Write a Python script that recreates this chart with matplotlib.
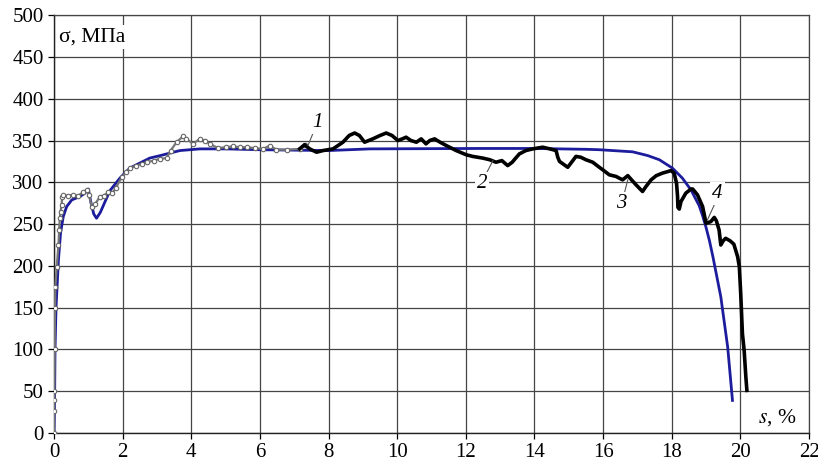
import matplotlib
matplotlib.use("Agg")
import matplotlib.pyplot as plt
import numpy as np

# experimental curve (strain s, %; stress, MPa)
s_exp = [0.00, 0.00, 0.01, 0.01, 0.02, 0.03, 0.04, 0.08, 0.13, 0.15, 0.17, 0.19, 0.22, 0.24,
         0.27, 0.40, 0.55, 0.70, 0.85, 0.95, 1.02, 1.10, 1.20, 1.34, 1.45, 1.58, 1.70, 1.80,
         1.97, 2.10, 2.21, 2.40, 2.55, 2.70, 2.90, 3.08, 3.28, 3.40, 3.57, 3.76, 3.86, 4.05,
         4.25, 4.40, 4.54, 4.78, 5.00, 5.22, 5.41, 5.61, 5.85, 6.09, 6.29, 6.48, 6.80, 7.16,
         7.30, 7.45, 7.65, 7.84, 8.13, 8.42, 8.60, 8.76, 8.90, 9.05, 9.29, 9.50, 9.68, 9.85,
         10.02, 10.15, 10.26, 10.40, 10.56, 10.70, 10.84, 10.95, 11.09, 11.25, 11.43, 11.72,
         12.01, 12.20, 12.49, 12.70, 12.88, 13.05, 13.22, 13.35, 13.56, 13.75, 13.95, 14.24,
         14.45, 14.63, 14.68, 14.73, 14.97, 15.10, 15.21, 15.35, 15.50, 15.70, 15.89, 15.99,
         16.18, 16.38, 16.47, 16.57, 16.72, 16.85, 16.96, 17.15, 17.25, 17.40, 17.55, 17.73,
         17.98, 18.07, 18.14, 18.17, 18.18, 18.22, 18.27, 18.41, 18.56, 18.61, 18.75, 18.90,
         19.00, 19.14, 19.24, 19.30, 19.38, 19.43, 19.50, 19.57, 19.70, 19.81, 19.92, 19.97,
         20.01, 20.06, 20.11, 20.16, 20.19]
sig_exp = [0, 26, 40, 50, 100, 150, 175, 199, 225, 243, 257, 265, 273, 283,
           285, 284, 285, 284, 288, 291, 285, 271, 274, 283, 284, 288, 287, 293,
           306, 312, 317, 320, 322, 324, 326, 328, 329, 338, 348, 355, 352, 346,
           352, 350, 346, 341, 342, 343, 342, 342, 341, 340, 344, 339, 339, 340,
           345, 340, 336, 338, 340, 348, 356, 359, 356, 348, 352, 356, 359, 356,
           350, 352, 354, 350, 348, 352, 346, 350, 352, 348, 344, 338,
           333, 331, 329, 327, 324, 326, 320, 324, 334, 338, 340, 342,
           340, 338, 330, 325, 318, 325, 331, 330, 327, 324, 318, 315,
           309, 307, 305, 303, 308, 302, 297, 289, 295, 303, 308, 311,
           314, 311, 299, 283, 270, 268, 277, 287, 292, 292, 285, 271,
           251, 253, 258, 254, 243, 225, 230, 233, 230, 226, 211, 199,
           167, 119, 99, 67, 51]

# model curve
s_mod = [0.00, 0.02, 0.03, 0.06, 0.13, 0.19, 0.27, 0.37, 0.52, 0.76, 0.90, 1.00, 1.08, 1.16,
         1.24, 1.35, 1.50, 1.63, 1.92, 2.21, 2.50, 2.79, 3.10, 3.38, 3.67, 4.25, 5.00, 6.00,
         8.00, 9.20, 12.40, 14.00, 15.50, 15.89, 16.86, 17.30, 17.64, 18.02, 18.31, 18.56,
         18.80, 18.90, 19.00, 19.10, 19.20, 19.43, 19.63, 19.77]
sig_mod = [0, 50, 100, 151, 207, 239, 259, 271, 279, 283, 287, 292, 275, 262,
           257, 264, 278, 290, 305, 317, 323, 329, 332, 335, 338, 340, 340, 339,
           338, 340, 340.5, 340.5, 339.5, 339, 336.5, 332, 327, 317, 305, 291,
           272, 260, 246, 230, 211, 163, 103, 39]

# curve labels: (text, label position, leader start, leader end)
labels = ["1", "2", "3", "4"]
lab_xy = [(7.69, 372), (12.47, 298), (16.52, 275), (19.33, 287)]
lead_from = [(7.56, 360), (12.59, 310), (16.62, 287), (19.24, 273)]
lead_to = [(7.40, 344), (12.79, 326), (16.72, 303), (19.04, 255)]

plt.rcParams["font.family"] = "serif"
plt.rcParams["font.serif"] = ["Liberation Serif", "DejaVu Serif"]
plt.rcParams["mathtext.fontset"] = "stix"

fig = plt.figure(figsize=(8.18, 4.70), dpi=100)
ax = fig.add_axes([0.066, 0.0787, 0.923, 0.889])

s_exp = np.array(s_exp)
sig_exp = np.array(sig_exp)
early = s_exp <= 7.3
late = s_exp >= 7.16
ax.plot(s_mod, sig_mod, color="#1c1c9c", lw=2.0, zorder=3)
ax.plot(s_exp[early], sig_exp[early], color="#777", lw=1.6, marker="o", ms=3.2,
        mfc="white", mec="#666", mew=0.8, zorder=4)
ax.plot(s_exp[late], sig_exp[late], color="black", lw=2.6, zorder=4)

for t, (lx, ly), a, b in zip(labels, lab_xy, lead_from, lead_to):
    ax.plot([a[0], b[0]], [a[1], b[1]], color="#555", lw=0.8, zorder=6)
    ax.text(lx, ly, t, fontsize=15, style="italic", ha="center", va="center", zorder=7,
            bbox=dict(boxstyle="square,pad=0.1", fc="white", ec="none"))

ax.set_xlim(0, 22)
ax.set_ylim(0, 500)
ax.set_xticks(np.arange(0, 23, 2))
ax.set_yticks(np.arange(0, 501, 50))
ax.grid(True, color="#444", lw=0.9)
ax.set_axisbelow(True)
for side in ("top", "right"):
    ax.spines[side].set_color("#444")
    ax.spines[side].set_linewidth(0.9)
for side in ("left", "bottom"):
    ax.spines[side].set_color("#222")
    ax.spines[side].set_linewidth(1.0)
ax.tick_params(direction="out", length=4, width=0.9, labelsize=15, colors="black")

ax.text(0.15, 474, "σ, МПа", fontsize=15.5, ha="left", va="center", zorder=7,
        bbox=dict(boxstyle="square,pad=0.12", fc="white", ec="none"))
ax.text(20.5, 18, "$s$, %", fontsize=15.5, ha="left", va="center", zorder=7,
        bbox=dict(boxstyle="square,pad=0.15", fc="white", ec="none"))

fig.savefig("out.png", dpi=100)
